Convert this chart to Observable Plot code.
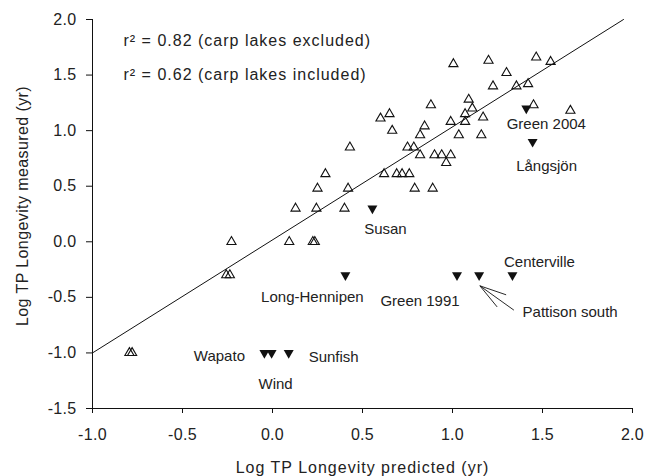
<!DOCTYPE html>
<html>
<head>
<meta charset="utf-8">
<script src="https://cdn.jsdelivr.net/npm/d3@7"></script>
<script src="https://cdn.jsdelivr.net/npm/@observablehq/plot@0.6"></script>
<style>
  html, body { margin: 0; padding: 0; background: #fff; }
  #chart svg { display: block; }
</style>
</head>
<body>
<div id="chart"></div>
<script>
// ---- Data ----
// Non-carp lakes (open triangles)
const lakePredicted = [-0.795, -0.78, -0.257, -0.237, -0.228, 0.093, 0.224, 0.235, 0.128, 0.244,
  0.40, 0.25, 0.42, 0.294, 0.43, 0.62, 0.69, 0.72, 0.76, 0.79,
  0.89, 0.75, 0.785, 0.82, 0.90, 0.94, 0.99, 0.965, 0.82, 0.845,
  0.665, 0.60, 0.65, 0.88, 0.99, 1.035, 1.07, 1.07, 1.11, 1.09,
  1.17, 1.16, 1.005, 1.20, 1.225, 1.30, 1.355, 1.42, 1.465, 1.545,
  1.45, 1.655];
const lakeMeasured = [-1.0, -1.0, -0.3, -0.3, 0.0, 0.0, 0.0, 0.0, 0.3, 0.3,
  0.3, 0.48, 0.48, 0.61, 0.85, 0.61, 0.61, 0.61, 0.61, 0.48,
  0.48, 0.85, 0.85, 0.78, 0.78, 0.78, 0.78, 0.71, 0.96, 1.04,
  1.0, 1.11, 1.15, 1.23, 1.08, 0.96, 1.08, 1.15, 1.20, 1.28,
  1.12, 0.96, 1.6, 1.63, 1.40, 1.52, 1.40, 1.42, 1.66, 1.62,
  1.23, 1.18];

// Carp lakes (filled down-triangles)
const carpNames = ["Wapato", "Wind", "Sunfish", "Long-Hennipen", "Susan", "Green 1991",
  "Pattison south", "Centerville", "Green 2004", "Långsjön"];
const carpPredicted = [-0.045, -0.005, 0.09, 0.405, 0.555, 1.025, 1.148, 1.333, 1.41, 1.445];
const carpMeasured = [-1.0, -1.0, -1.0, -0.3, 0.3, -0.3, -0.3, -0.3, 1.2, 0.9];

// Regression line end points
const fitX = [-1.0, 1.95];
const fitY = [-1.0, 2.0];

// Leader lines for "Pattison south"
const leaderX1 = [1.152, 1.152, 1.152];
const leaderY1 = [-0.396, -0.396, -0.396];
const leaderX2 = [1.298, 1.248, 1.341];
const leaderY2 = [-0.477, -0.586, -0.615];

// Ticks and texts
const xTicks = [-1.0, -0.5, 0.0, 0.5, 1.0, 1.5, 2.0];
const yTicks = [-1.5, -1.0, -0.5, 0.0, 0.5, 1.0, 1.5, 2.0];
const xTitle = "Log TP Longevity predicted (yr)";
const yTitle = "Log TP Longevity measured (yr)";
const statTexts = ["r² = 0.82 (carp lakes excluded)", "r² = 0.62 (carp lakes included)"];

// ---- Styling / layout config (pixel offsets for labels) ----
const labelOffsets = {
  "Wapato": [-45, 3],
  "Wind": [4, 31],
  "Sunfish": [45, 4],
  "Long-Hennipen": [-33, 22],
  "Susan": [13, 21],
  "Green 1991": [-37, 26],
  "Pattison south": [91, 37],
  "Centerville": [27, -13],
  "Green 2004": [20, 16],
  "Långsjön": [14, 24]
};
const FONT = "'Liberation Sans', Arial, Helvetica, sans-serif";
const INK = "#111";
const TEXT = "#222";

const lakes = lakePredicted.map((x, i) => ({x, y: lakeMeasured[i]}));
const carp = carpNames.map((name, i) => ({name, x: carpPredicted[i], y: carpMeasured[i]}));
const fit = fitX.map((x, i) => ({x, y: fitY[i]}));
const leaders = leaderX1.map((x1, i) => ({x1, y1: leaderY1[i], x2: leaderX2[i], y2: leaderY2[i]}));

const triDown = {
  draw(ctx, size) {
    const y = Math.sqrt(size / (Math.sqrt(3) * 3));
    ctx.moveTo(0, 2 * y);
    ctx.lineTo(Math.sqrt(3) * y, -y);
    ctx.lineTo(-Math.sqrt(3) * y, -y);
    ctx.closePath();
  }
};
const fmt = d => d.toFixed(1);

const chart = Plot.plot({
  width: 659,
  height: 476,
  marginLeft: 92,
  marginRight: 27,
  marginTop: 19,
  marginBottom: 68,
  style: {fontFamily: FONT, fontSize: "16px", color: TEXT, background: "#fff", overflow: "visible"},
  x: {domain: [-1, 2]},
  y: {domain: [-1.5, 2]},
  marks: [
    Plot.axisX({ticks: xTicks, tickFormat: fmt, tickSize: 5, tickPadding: 15, label: null, fontSize: 16, stroke: INK, fill: TEXT}),
    Plot.axisY({ticks: yTicks, tickFormat: fmt, tickSize: 6, tickPadding: 10, label: null, fontSize: 16, stroke: INK, fill: TEXT}),
    Plot.ruleX([-1], {stroke: INK, strokeWidth: 1}),
    Plot.ruleY([-1.5], {stroke: INK, strokeWidth: 1}),
    Plot.line(fit, {x: "x", y: "y", stroke: INK, strokeWidth: 1}),
    Plot.dot(lakes, {x: "x", y: "y", symbol: "triangle", r: 3.4, fill: "none", stroke: INK, strokeWidth: 1.1}),
    Plot.dot(carp, {x: "x", y: "y", symbol: triDown, r: 3.7, fill: INK, stroke: "none"}),
    Plot.link(leaders, {x1: "x1", y1: "y1", x2: "x2", y2: "y2", stroke: INK, strokeWidth: 0.9}),
    ...carp.map(d => Plot.text([d], {
      x: "x", y: "y", text: "name",
      dx: labelOffsets[d.name][0], dy: labelOffsets[d.name][1],
      fontSize: 15, fill: TEXT
    })),
    Plot.text([statTexts[0]], {frameAnchor: "top-left", dx: 31, dy: 26, lineAnchor: "bottom", textAnchor: "start", fontSize: 16, fill: TEXT}),
    Plot.text([statTexts[1]], {frameAnchor: "top-left", dx: 31, dy: 60, lineAnchor: "bottom", textAnchor: "start", fontSize: 16, fill: TEXT}),
    Plot.text([xTitle], {frameAnchor: "bottom", dy: 59, textAnchor: "middle", lineAnchor: "middle", fontSize: 16, fill: TEXT}),
    Plot.text([yTitle], {frameAnchor: "left", dx: -70, dy: -8, rotate: -90, textAnchor: "middle", lineAnchor: "middle", fontSize: 16, fill: TEXT})
  ]
});

d3.select(chart).selectAll("text").each(function () {
  const t = this.textContent;
  if (t === xTitle || statTexts.includes(t)) this.style.letterSpacing = "1px";
  else if (t === yTitle) this.style.letterSpacing = "0.4px";
  else if (/^-?\d\.\d$/.test(t)) this.style.letterSpacing = "0.3px";
});

document.getElementById("chart").appendChild(chart);
</script>
</body>
</html>
